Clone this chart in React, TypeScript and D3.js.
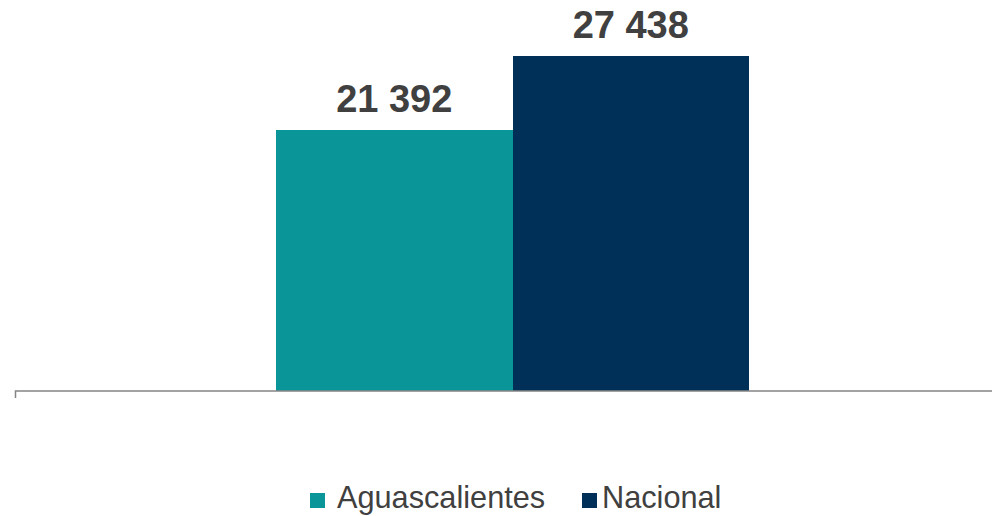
import React from "react";
import * as d3 from "d3";

const categories = ["Aguascalientes", "Nacional"];
const values = [21392, 27438];
const colors = ["#0A9699", "#003057"];

const W = 992;
const H = 516;
const baseline = 391;
const plotTop = 0;

export default function App() {
  const x = d3.scaleBand<string>().domain(categories).range([276, 749]).paddingInner(0);
  const y = d3.scaleLinear().domain([0, 32000]).range([baseline, plotTop]);
  const fmt = (v: number) => d3.format(",")(v).replace(/,/g, " ");

  const legendFont = 30.7;
  const sq = 15;
  const legendItems = [
    { name: categories[0], color: colors[0], sx: 310, tx: 337 },
    { name: categories[1], color: colors[1], sx: 582, tx: 602 },
  ];

  return (
    <svg
      width={W}
      height={H}
      style={{ position: "absolute", left: 0, top: 0 }}
      fontFamily="'Liberation Sans', Arial, sans-serif"
    >
      <rect width={W} height={H} fill="#ffffff" />
      {categories.map((c, i) => (
        <g key={c}>
          <rect
            x={x(c)!}
            y={y(values[i])}
            width={x.bandwidth() + (i === 0 ? 0.5 : 0)}
            height={baseline - y(values[i])}
            fill={colors[i]}
            shapeRendering="crispEdges"
          />
          <text
            x={x(c)! + x.bandwidth() / 2}
            y={y(values[i]) - 18}
            textAnchor="middle"
            fontSize={38}
            fontWeight="bold"
            fill="#404040"
          >
            {fmt(values[i])}
          </text>
        </g>
      ))}
      <path
        d={`M15.5,398 V${baseline} H${W}`}
        fill="none"
        stroke="#858585"
        strokeWidth={1.5}
      />
      {legendItems.map((l) => (
        <g key={l.name}>
          <rect x={l.sx} y={493} width={sq} height={sq} fill={l.color} />
          <text x={l.tx} y={508} fontSize={legendFont} fill="#404040">
            {l.name}
          </text>
        </g>
      ))}
    </svg>
  );
}
